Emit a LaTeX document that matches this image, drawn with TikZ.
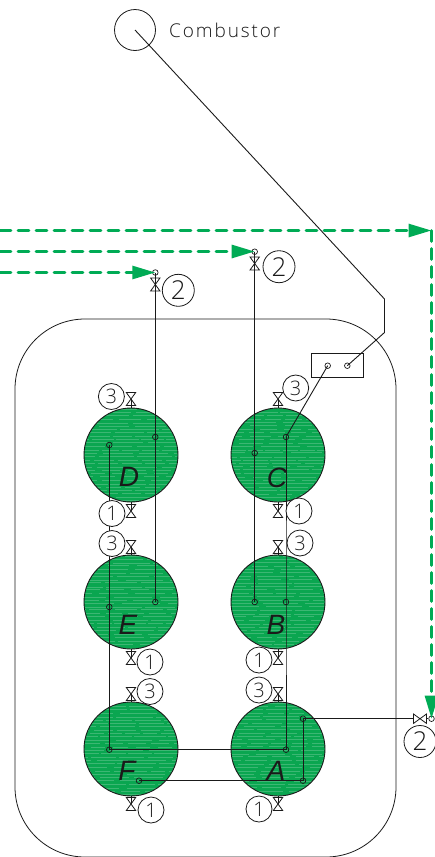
\documentclass[tikz,border=0pt]{standalone}
\usepackage{fontspec}
\setmainfont{Open Sans Light}
\newfontfamily\labelfont[LetterSpace=10]{Open Sans Light}
\newfontfamily\tankfont{Liberation Sans}
\usetikzlibrary{arrows.meta}
\definecolor{tankgreen}{HTML}{0AA650}
\definecolor{flowgreen}{HTML}{00AB55}
\definecolor{ink}{HTML}{1A1A1A}
\tikzset{
  x=1pt,y=-1pt,
  pipe/.style={draw=ink,line width=0.9pt},
  thinline/.style={draw=ink,line width=0.8pt},
  tank/.style={circle,draw=ink,line width=0.9pt,inner sep=0,minimum size=94pt,fill=tankgreen},
  dot/.style={circle,draw=ink,line width=0.7pt,inner sep=0,minimum size=5.6pt},
  tag/.style={circle,draw=ink,line width=0.8pt,fill=white,inner sep=0,minimum size=26pt,font=\fontsize{20}{20}\selectfont,text=ink},
  bigtag/.style={tag,minimum size=32pt,font=\fontsize{26}{26}\selectfont},
  valvebox/.style={inner sep=0,minimum width=9pt,minimum height=12.6pt},
  valveh/.style={inner sep=0,minimum width=12.6pt,minimum height=9pt},
  flow/.style={draw=flowgreen,line width=2.8pt,dash pattern=on 11pt off 7pt,line cap=round},
  flowtip/.style={-{Triangle[length=23pt,width=13pt]}},
  tankletter/.style={font=\fontsize{28}{28}\selectfont\tankfont\itshape,text=ink,inner sep=0},
}
\newcommand{\tankat}[4]{%
  \node[tank] (#1) at (#2,#3) {};
  \begin{scope}
    \clip (#2,#3) circle (46.5);
    \pgfmathsetseed{#4}
    \foreach \r in {0,...,27}{
      \pgfmathsetmacro{\yy}{#3-46+\r*3.4+rand*0.5}
      \pgfmathsetmacro{\ph}{rnd*30}
      \pgfmathsetmacro{\aa}{14+rnd*26}
      \pgfmathsetmacro{\bb}{2+rnd*6}
      \draw[white,opacity=0.2,line width=1pt,dash pattern=on \aa pt off \bb pt,dash phase=\ph pt] (#2-47,\yy) -- (#2+47,\yy);
    }
  \end{scope}
}
\newcommand{\valvev}[3]{%
  \node[valvebox] (#1) at (#2,#3) {};
  \draw[thinline] (#1.north west) -- (#1.north east) -- (#1.south west) -- (#1.south east) -- cycle;
}
\begin{document}
\begin{tikzpicture}
\useasboundingbox (0,0) rectangle (434,857);
% vessel
\draw[thinline,rounded corners=70pt] (15,857) -- (15,319) -- (396,319) -- (396,857) -- cycle;
% combustor
\node[circle,draw=ink,line width=0.8pt,inner sep=0,minimum size=41pt] (comb) at (135,30) {};
\node[anchor=west,inner sep=0,font=\fontsize{19}{19}\selectfont\labelfont,text=ink] (combtxt) at (169,30) {Combustor};
% tanks
\tankat{D}{131}{455}{11}
\tankat{C}{278}{455}{12}
\tankat{E}{131}{602}{13}
\tankat{B}{278}{602}{14}
\tankat{F}{131}{749}{15}
\tankat{A}{278}{749}{16}
\node[tankletter] (lD) at (129,477) {D};
\node[tankletter] (lC) at (277,478) {C};
\node[tankletter] (lE) at (128,625) {E};
\node[tankletter] (lB) at (276,625) {B};
\node[tankletter] (lF) at (127,771) {F};
\node[tankletter] (lA) at (276,771) {A};
% box
\node[draw=ink,line width=0.8pt,inner sep=0,minimum width=51.6pt,minimum height=24pt] (box) at (337.5,365.3) {};
% dots
\node[dot] (b1) at (327.7,365.7) {};
\node[dot] (b2) at (347.3,365.7) {};
\node[dot] (dD1) at (109.3,445) {};
\node[dot] (dD2) at (155.3,437) {};
\node[dot] (dC1) at (254.7,453) {};
\node[dot] (dC2) at (286,437) {};
\node[dot] (dE1) at (109.3,607) {};
\node[dot] (dE2) at (155.3,602) {};
\node[dot] (dB1) at (254.7,602) {};
\node[dot] (dB2) at (286,602) {};
\node[dot] (dF1) at (109.3,749.7) {};
\node[dot] (dF2) at (139,780.7) {};
\node[dot] (dA1) at (286,749.7) {};
\node[dot] (dA2) at (303,780.7) {};
\node[dot] (dA3) at (303,718.7) {};
\node[dot] (top1) at (155.3,272.5) {};
\node[dot] (top2) at (254.7,251.7) {};
\node[dot] (right) at (431.5,718.7) {};
% pipes
\coordinate (bend1) at (384.5,299);
\coordinate (bend2) at (384.5,332.5);
\draw[pipe] (comb.center) -- (bend1) -- (bend2) -- (b2.center);
\draw[pipe] (b1.center) -- (dC2.center);
\draw[pipe] (dC2.center) -- (dB2.center) -- (dA1.center) -- (dF1.center) -- (dE1.center) -- (dD1.center);
\draw[pipe] (top1.center) -- (dD2.center) -- (dE2.center);
\draw[pipe] (top2.center) -- (dC1.center) -- (dB1.center);
\draw[pipe] (dF2.center) -- (dA2.center) -- (dA3.center);
% valves
\valvev{vD3}{131}{399}
\valvev{vD1}{131}{511}
\valvev{vE3}{131}{547}
\valvev{vE1}{131}{658}
\valvev{vF3}{131}{694}
\valvev{vF1}{131}{804}
\valvev{vC3}{278}{399}
\valvev{vC1}{278}{511}
\valvev{vB3}{278}{547}
\valvev{vB1}{278}{658}
\valvev{vA3}{278}{694}
\valvev{vA1}{278}{804}
\valvev{vT1}{155.3}{284.5}
\valvev{vT2}{254.7}{263.5}
\node[valveh] (vR) at (420,718.7) {};
\draw[thinline] (vR.north west) -- (vR.south west) -- (vR.north east) -- (vR.south east) -- cycle;
\draw[pipe] (dA3.center) -- (vR.west);
\draw[pipe] (vR.east) -- (right.west);
\foreach \t/\v in {D/vD3,D/vD1,E/vE3,E/vE1,F/vF3,F/vF1,C/vC3,C/vC1,B/vB3,B/vB1,A/vA3,A/vA1}{
  \draw[thinline] (\t) -- (\v.center);
}
% tags
\node[tag] (t1) at (111.4,396.5) {3};
\node[tag] (t2) at (112,513.5) {1};
\node[tag] (t3) at (112,543.5) {3};
\node[tag] (t4) at (150,662) {1};
\node[tag] (t5) at (150,691.5) {3};
\node[tag] (t6) at (151,810) {1};
\node[tag] (t7) at (295.7,388) {3};
\node[tag] (t8) at (299,511) {1};
\node[tag] (t9) at (300,543) {3};
\node[tag] (t10) at (259,660) {1};
\node[tag] (t11) at (259,690) {3};
\node[tag] (t12) at (259,809) {1};
\node[bigtag] (t13) at (178.3,290.3) {2};
\node[bigtag] (t14) at (279,266.7) {2};
\node[bigtag] (t15) at (420,741.5) {2};
% flows
\coordinate (s1) at (0,230.5);
\coordinate (s2) at (0,251.5);
\coordinate (s3) at (0,272.5);
\coordinate (corner) at (431.5,230.5);
\draw[flow,flowtip] (s1) -- (corner);
\draw[flow,flowtip] (corner) -- (right.center);
\draw[flow,flowtip] (s2) -- (s2 -| top2.center);
\draw[flow,flowtip] (s3) -- (top1.center);
\end{tikzpicture}
\end{document}
